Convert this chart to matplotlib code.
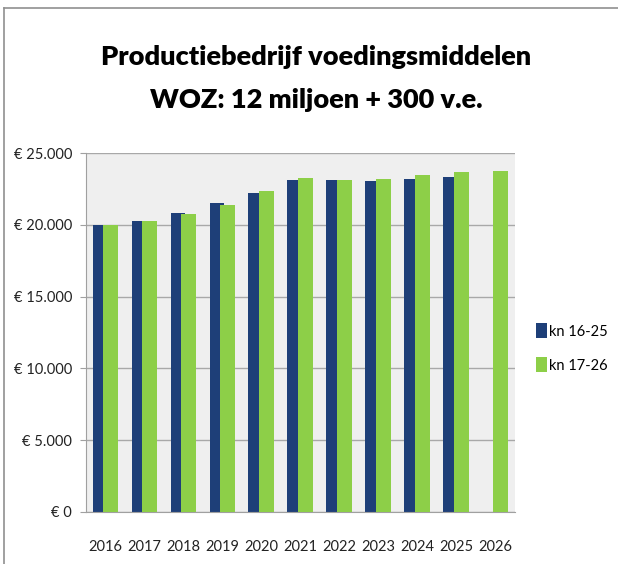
import matplotlib
matplotlib.use("Agg")
import matplotlib.pyplot as plt
import numpy as np
from matplotlib.lines import Line2D
from matplotlib.patches import Patch
from matplotlib.ticker import FuncFormatter

years = ["2016", "2017", "2018", "2019", "2020", "2021", "2022", "2023", "2024", "2025", "2026"]
kn_16_25 = [20000, 20250, 20850, 21500, 22250, 23100, 23100, 23030, 23170, 23300, np.nan]
kn_17_26 = [19970, 20250, 20750, 21350, 22350, 23280, 23140, 23210, 23470, 23680, 23770]
series_names = ["kn 16-25", "kn 17-26"]
title_lines = ["Productiebedrijf voedingsmiddelen", "WOZ: 12 miljoen + 300 v.e."]

navy = "#1E3F78"
green = "#8DCF48"

plt.rcParams['font.family'] = ['Lato', 'DejaVu Sans']

fig = plt.figure(figsize=(6.18, 5.64), dpi=100)
ax = fig.add_axes([0.139, 0.0922, 0.694, 0.6365])
ax.set_facecolor("#EFEFEF")

x = np.arange(len(years))
w = 0.38
off = 0.14
ax.bar(x - off, kn_16_25, width=w, color=navy, zorder=2)
ax.bar(x + off, kn_17_26, width=w, color=green, zorder=3)

ax.set_xlim(-0.5, len(years) - 0.5)
ax.set_ylim(0, 25000)
ax.set_yticks(np.arange(0, 25001, 5000))
ax.yaxis.set_major_formatter(FuncFormatter(lambda v, p: "€ " + f"{int(v):,}".replace(",", ".")))
ax.set_xticks(x)
ax.set_xticklabels(years)
ax.grid(axis="y", color="#A8A8A8", linewidth=1, zorder=1)
ax.set_axisbelow(True)
for s in ["top", "right"]:
    ax.spines[s].set_visible(False)
for s in ["left", "bottom"]:
    ax.spines[s].set_color("#A0A0A0")
ax.tick_params(axis="y", length=4, color="#A0A0A0", labelsize=10.5, labelcolor="#222222", pad=6)
ax.tick_params(axis="x", length=0, labelsize=10.5, labelcolor="#222222", pad=20)

fig.text(0.512, 0.8848, title_lines[0], ha="center", va="baseline", fontsize=19.5, fontweight="heavy")
fig.text(0.512, 0.8085, title_lines[1], ha="center", va="baseline", fontsize=19.5, fontweight="heavy")

handles = [Patch(facecolor=navy, label=series_names[0]), Patch(facecolor=green, label=series_names[1])]
fig.legend(handles=handles, loc="center", bbox_to_anchor=(0.925, 0.383), frameon=False,
           handlelength=0.8, handleheight=1.2, handletextpad=0.1, labelspacing=1.3, fontsize=10.5)

fig.add_artist(Line2D([0.0065, 0.0065], [0, 0.986], transform=fig.transFigure, color="#909090", lw=1.2))
fig.add_artist(Line2D([0.0065, 1.0], [0.986, 0.986], transform=fig.transFigure, color="#909090", lw=1.2))

fig.savefig("out.png", dpi=100)
